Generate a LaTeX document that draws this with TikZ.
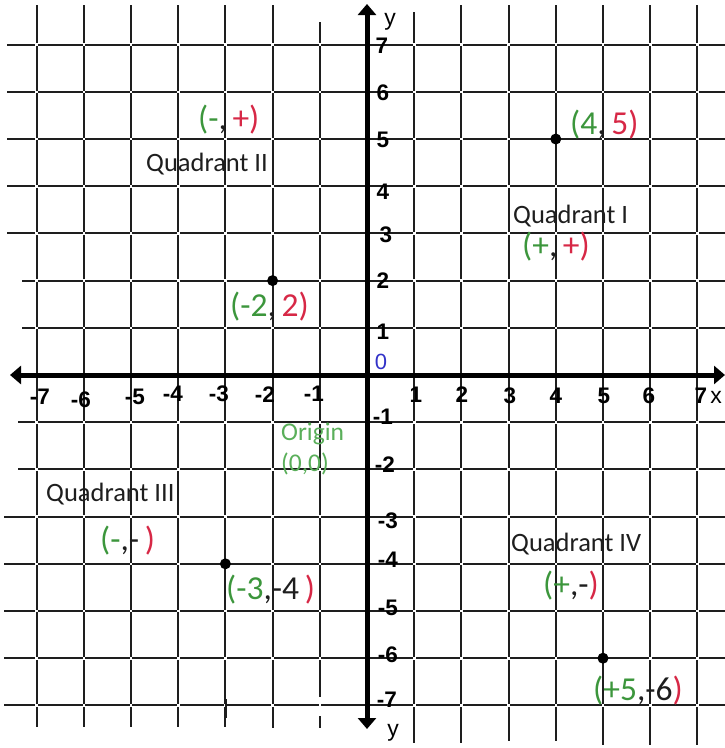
\documentclass[tikz,border=0pt]{standalone}
\usepackage{fontspec}
\setmainfont{Carlito}
\newfontfamily\tickfont{Liberation Sans}
\usetikzlibrary{arrows.meta}
\definecolor{cgreen}{RGB}{60,150,60}
\definecolor{cred}{RGB}{215,40,70}
\definecolor{cogreen}{RGB}{90,175,90}
\definecolor{cblue}{RGB}{50,50,200}
\definecolor{gridc}{RGB}{30,30,30}
\definecolor{txt}{RGB}{30,30,30}
\begin{document}
\begin{tikzpicture}[x=1pt,y=-1pt,
  gridline/.style={line width=1.9pt, draw=gridc},
  axisline/.style={line width=5pt, draw=black, {Triangle[length=11pt,width=18pt]}-{Triangle[length=11pt,width=18pt]}},
  tick/.style={font=\tickfont\bfseries\fontsize{22.5}{22.5}\selectfont, inner sep=0, text=black},
  lbl/.style={font=\fontsize{33.5}{33.5}\selectfont, inner sep=0, anchor=base west, text=txt},
  quad/.style={font=\fontsize{26.5}{26.5}\selectfont, inner sep=0, anchor=base west, text=txt},
  orig/.style={font=\fontsize{25.5}{25.5}\selectfont, inner sep=0, anchor=base west, text=cogreen},
  dot/.style={circle, fill=black, inner sep=0, minimum size=11pt}]
\def\ux{47.2}
\useasboundingbox (0,0) rectangle (725,748);
\fill[white] (0,0) rectangle (725,748);
% vertical grid lines
\foreach \k/\t/\b in {-7/5/727,-6/5/727,-5/5/727,-4/5/727,-3/5/727,-2/5/728,1/12/743,2/5/743,3/5/741,4/5/741,5/5/745,6/5/745,7/5/745}
  \draw[gridline] ({367+\ux*\k},\t) -- ({367+\ux*\k},\b);
\draw[gridline] ({367-\ux},22) -- ({367-\ux},697);
\draw[gridline] ({367-\ux},716) -- ({367-\ux},728);
% horizontal grid lines
\foreach \k/\l in {7/7,6/7,5/7,4/7,3/7,2/22,1/22,-1/18,-2/18,-3/4,-4/4,-5/4,-6/4,-7/4}
  \draw[gridline] (\l,{375-\ux*\k}) -- (725,{375-\ux*\k});
% small breaks at crossings
\foreach \i in {-7,...,-1,1,2,...,7}
  \foreach \j in {-7,...,-1,1,2,...,7}
    \fill[white] ({367+\ux*\i-1.3},{375-\ux*\j-1.3}) rectangle ++(2.6,2.6);
\draw[line width=2.6pt, draw=gridc] (226,699) -- (226,718);
% axes
\coordinate (xl) at (10,375);
\coordinate (xr) at (725,375);
\coordinate (yt) at (367,4);
\coordinate (yb) at (367,729);
\draw[axisline] (xl) -- (xr);
\draw[axisline] (yt) -- (yb);
% x tick labels
\node[tick] (xm7) at (40,397) {-7};
\node[tick] (xm6) at (81,400) {-6};
\node[tick] (xm5) at (135,397) {-5};
\node[tick] (xm4) at (173,394) {-4};
\node[tick] (xm3) at (219,394) {-3};
\node[tick] (xm2) at (265,395) {-2};
\node[tick] (xm1) at (314,394) {-1};
\node[tick] (xp1) at (416,395) {1};
\node[tick] (xp2) at (462,395) {2};
\node[tick] (xp3) at (510,396) {3};
\node[tick] (xp4) at (556,396) {4};
\node[tick] (xp5) at (604,396) {5};
\node[tick] (xp6) at (649,396) {6};
\node[tick] (xp7) at (701,396) {7};
\node[tick, font=\tickfont\fontsize{23}{23}\selectfont] (xlab) at (716,397) {x};
% y tick labels
\node[tick] (yp7) at (382,46) {7};
\node[tick] (yp6) at (383,93) {6};
\node[tick] (yp5) at (383,140) {5};
\node[tick] (yp4) at (383,192) {4};
\node[tick] (yp3) at (386,235) {3};
\node[tick] (yp2) at (383,281) {2};
\node[tick] (yp1) at (383,332) {1};
\node[tick, font=\tickfont\fontsize{22}{22}\selectfont, text=cblue] (y0) at (381,362) {0};
\node[tick] (ym1) at (383,417) {-1};
\node[tick] (ym2) at (385,465) {-2};
\node[tick] (ym3) at (388,521) {-3};
\node[tick] (ym4) at (388,560) {-4};
\node[tick] (ym5) at (388,608) {-5};
\node[tick] (ym6) at (388,655) {-6};
\node[tick] (ym7) at (387,700) {-7};
\node[tick, font=\tickfont\fontsize{23}{23}\selectfont] (ytop) at (390,22) {y};
\node[tick, font=\tickfont\fontsize{23}{23}\selectfont] (ybot) at (393,733) {y};
% points
\node[dot] (pA) at ({367+\ux*4},{375-\ux*5}) {};
\node[dot] (pB) at ({367-\ux*2},{375-\ux*2}) {};
\node[dot] (pC) at ({367-\ux*3},{375+\ux*4}) {};
\node[dot] (pD) at ({367+\ux*5},{375+\ux*6}) {};
% labels
\node[lbl] (sII) at (198,129) {\textcolor{cgreen}{(-},\,\textcolor{cred}{+)}};
\node[quad] (qII) at (146,171) {Quadrant II};
\node[lbl] (lA) at (570,134) {\textcolor{cgreen}{(4},\,\textcolor{cred}{5)}};
\node[quad] (qI) at (513,223) {Quadrant I};
\node[lbl] (sI) at (522,256) {\textcolor{cgreen}{(+},\,\textcolor{cred}{+)}};
\node[lbl] (lB) at (230,316) {\textcolor{cgreen}{(-2},\,\textcolor{cred}{2)}};
\node[orig] (ori) at (281,440) {Origin};
\node[orig] (oric) at (281,471) {(0,0)};
\node[quad] (qIII) at (46,501) {Quadrant III};
\node[lbl] (sIII) at (100,550) {\textcolor{cgreen}{(-},-\,\textcolor{cred}{)}};
\node[lbl] (lC) at (226,599) {\textcolor{cgreen}{(-3},-4\,\textcolor{cred}{)}};
\node[quad] (qIV) at (511,551) {Quadrant IV};
\node[lbl] (sIV) at (543,595) {\textcolor{cgreen}{(+},-\textcolor{cred}{)}};
\node[lbl] (lD) at (593,700) {\textcolor{cgreen}{(+5},-6\textcolor{cred}{)}};
\end{tikzpicture}
\end{document}
